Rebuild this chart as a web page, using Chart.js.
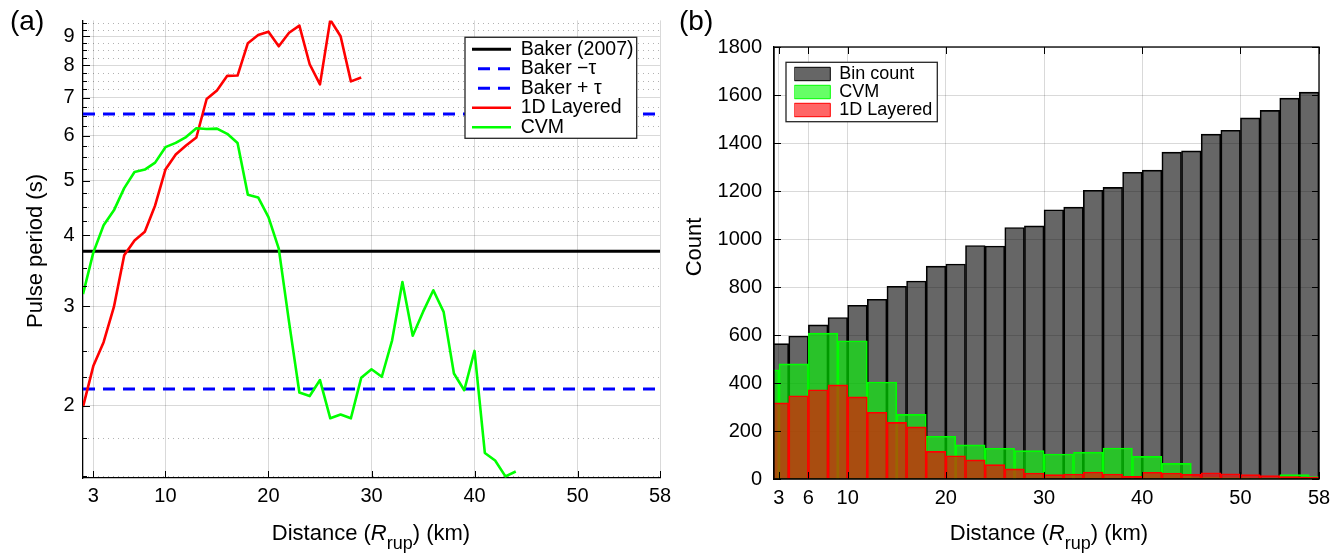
<!DOCTYPE html>
<html>
<head>
<meta charset="utf-8">
<script src="https://cdn.jsdelivr.net/npm/chart.js@4.4.1/dist/chart.umd.min.js"></script>
<style>
html,body{margin:0;padding:0;background:#fff;}
#wrap{position:relative;width:1340px;height:553px;overflow:hidden;font-family:'Liberation Sans',Arial,Helvetica,sans-serif;color:#000;}
canvas{position:absolute;top:0;}
.lbl{position:absolute;white-space:nowrap;line-height:1;z-index:2;}
.xt{font-size:22px;line-height:22px;transform:translateX(-50%);}
.yt{font-size:22px;line-height:22px;transform:translate(-50%,-50%) rotate(-90deg);}
.sub{font-size:18px;vertical-align:-8.6px;line-height:1;}
</style>
</head>
<body>
<div id="wrap">
  <canvas id="chartA" width="680" height="553" style="left:0px"></canvas>
  <canvas id="chartB" width="660" height="553" style="left:680px"></canvas>
  <div class="lbl" style="left:10px;top:7px;font-size:28px">(a)</div>
  <div class="lbl" style="left:679px;top:7px;font-size:28px">(b)</div>
  <div class="lbl xt" style="left:371px;top:522px">Distance (<i>R</i><span class="sub">rup</span>) (km)</div>
  <div class="lbl xt" style="left:1049px;top:522px">Distance (<i>R</i><span class="sub">rup</span>) (km)</div>
  <div class="lbl yt" style="left:34.5px;top:250.5px">Pulse period (s)</div>
  <div class="lbl yt" style="left:694.4px;top:247px">Count</div>
</div>
<script>
// ================= DATA =================
// Panel (a): pulse period vs distance
const distanceTicks = [3, 10, 20, 30, 40, 50, 58];
const periodTicks = [2, 3, 4, 5, 6, 7, 8, 9];
const distanceRangeA = [2, 58];
const periodRange = [1.49, 9.6];

const layeredKm = [2,3,4,5,6,7,8,9,10,11,12,13,14,15,16,17,18,19,20,21,22,23,24,25,26,27,28,29];
const layeredPeriod = [1.99,2.35,2.59,2.99,3.69,3.92,4.06,4.52,5.23,5.56,5.77,5.96,6.97,7.22,7.66,7.67,8.75,9.05,9.17,8.64,9.13,9.40,8.03,7.40,9.62,9.00,7.49,7.61];

const cvmKm = [2,3,4,5,6,7,8,9,10,11,12,13,14,15,16,17,18,19,20,21,22,23,24,25,26,27,28,29,30,31,32,33,34,35,36,37,38,39,40,41,42,43,44];
const cvmPeriod = [3.15,3.73,4.17,4.43,4.85,5.18,5.23,5.38,5.73,5.83,5.97,6.19,6.17,6.18,6.05,5.83,4.72,4.67,4.31,3.79,2.81,2.11,2.08,2.22,1.90,1.93,1.90,2.24,2.32,2.25,2.61,3.31,2.66,2.93,3.20,2.93,2.28,2.13,2.50,1.65,1.60,1.50,1.53];

const bakerMedian = 3.75;
const bakerMinusTau = 2.14;
const bakerPlusTau = 6.56;

// Panel (b): histograms
const histTicks = [3, 6, 10, 20, 30, 40, 50, 58];
const distanceRangeB = [2.5, 58];
const countRange = [0, 1800];
const countStep = 200;

const binCentres2km = [3,5,7,9,11,13,15,17,19,21,23,25,27,29,31,33,35,37,39,41,43,45,47,49,51,53,55,57];
const binCount = [564,596,642,673,724,749,803,825,887,896,973,971,1048,1055,1122,1133,1203,1215,1278,1287,1362,1367,1437,1453,1505,1536,1587,1612];
const layeredCount = [317,347,372,392,342,278,236,217,115,97,80,60,42,25,18,21,29,21,11,28,25,19,26,22,18,14,10,8];

const binCentres3km = [1.5,4.5,7.5,10.5,13.5,16.5,19.5,22.5,25.5,28.5,31.5,34.5,37.5,40.5,43.5,46.5,49.5,52.5,55.5,58.5];
const cvmCount = [455,480,608,576,404,269,178,142,128,118,104,112,129,94,65,6,5,4,18,10];

// ================= HELPERS =================
const FONT = "'Liberation Sans', Arial, Helvetica, sans-serif";
Chart.defaults.font.family = FONT;
Chart.defaults.color = '#000';
const GRID = 'rgba(0,0,0,0.15)';

const pts = (xs, ys) => xs.map((x, i) => ({x: x, y: ys[i]}));
const flat = (v) => distanceRangeA.map(x => ({x: x, y: v}));

const insetLegend = {
  id: 'insetLegend',
  afterLayout(chart, args, o) {
    const L = chart.legend;
    if (!L || !o || o.itemsLeft === undefined) return;
    L.left = o.itemsLeft; L.top = o.itemsTop;
    L.right = o.boxLeft + o.boxWidth; L.bottom = o.boxTop + o.boxHeight;
    L.width = L.right - L.left; L.height = L.bottom - L.top;
  },
  afterDatasetsDraw(chart, args, o) {
    if (!o || o.itemsLeft === undefined) return;
    const ctx = chart.ctx;
    ctx.save();
    ctx.fillStyle = '#fff';
    ctx.fillRect(o.boxLeft, o.boxTop, o.boxWidth, o.boxHeight);
    ctx.lineWidth = o.borderWidth;
    ctx.strokeStyle = o.borderColor;
    ctx.strokeRect(o.boxLeft, o.boxTop, o.boxWidth, o.boxHeight);
    ctx.restore();
    chart.legend.draw();
  }
};

// Panel (a) decorations: dotted minor grid + inner ticks
const decorA = {
  id: 'decorA',
  beforeDatasetsDraw(chart) {
    const {ctx, chartArea: a, scales: {y}} = chart;
    ctx.save();
    ctx.strokeStyle = 'rgba(0,0,0,0.3)';
    ctx.lineWidth = 1;
    ctx.setLineDash([1, 4]);
    for (let v = 1.5; v < periodRange[1]; v += 0.25) {
      if (periodTicks.includes(v)) continue;
      const py = Math.round(y.getPixelForValue(v)) + 0.5;
      if (py < a.top || py > a.bottom) continue;
      ctx.beginPath(); ctx.moveTo(a.left, py); ctx.lineTo(a.right, py); ctx.stroke();
    }
    ctx.restore();
  },
  afterDatasetsDraw(chart) {
    const {ctx, chartArea: a, scales: {x, y}} = chart;
    ctx.save();
    ctx.strokeStyle = '#000';
    ctx.lineWidth = 1;
    for (let v = 1.5; v < periodRange[1]; v += 0.25) {
      const py = Math.round(y.getPixelForValue(v)) + 0.5;
      if (py < a.top || py > a.bottom) continue;
      const len = periodTicks.includes(v) ? 7 : 4;
      ctx.beginPath(); ctx.moveTo(a.left, py); ctx.lineTo(a.left + len, py); ctx.stroke();
    }
    distanceTicks.forEach(v => {
      const px = Math.round(x.getPixelForValue(v)) + 0.5;
      ctx.beginPath(); ctx.moveTo(px, a.bottom); ctx.lineTo(px, a.bottom - 7); ctx.stroke();
    });
    ctx.restore();
  }
};

// Panel (b) decorations: box frame + inner ticks
const decorB = {
  id: 'decorB',
  afterDatasetsDraw(chart) {
    const {ctx, chartArea: a, scales: {x, y}} = chart;
    ctx.save();
    ctx.strokeStyle = '#000';
    ctx.lineWidth = 1.3;
    ctx.strokeRect(a.left, a.top, a.right - a.left, a.bottom - a.top);
    ctx.lineWidth = 1;
    y.ticks.forEach(t => {
      const py = Math.round(y.getPixelForValue(t.value)) + 0.5;
      ctx.beginPath(); ctx.moveTo(a.left, py); ctx.lineTo(a.left + 7, py); ctx.stroke();
      ctx.beginPath(); ctx.moveTo(a.right, py); ctx.lineTo(a.right - 7, py); ctx.stroke();
    });
    histTicks.forEach(v => {
      const px = Math.round(x.getPixelForValue(v)) + 0.5;
      ctx.beginPath(); ctx.moveTo(px, a.bottom); ctx.lineTo(px, a.bottom - 7); ctx.stroke();
      ctx.beginPath(); ctx.moveTo(px, a.top); ctx.lineTo(px, a.top + 7); ctx.stroke();
    });
    ctx.restore();
  }
};

// ================= CHART (a) =================
new Chart(document.getElementById('chartA'), {
  type: 'line',
  data: {
    datasets: [
      {label: 'Baker (2007)', data: flat(bakerMedian), borderColor: '#000000', borderWidth: 3, order: 5},
      {label: 'Baker \u2212\u03C4', data: flat(bakerMinusTau), borderColor: '#0000ff', borderWidth: 3, borderDash: [12, 8], order: 4},
      {label: 'Baker + \u03C4', data: flat(bakerPlusTau), borderColor: '#0000ff', borderWidth: 3, borderDash: [12, 8], order: 3},
      {label: '1D Layered', data: pts(layeredKm, layeredPeriod), borderColor: '#ff0000', borderWidth: 2.6, order: 2},
      {label: 'CVM', data: pts(cvmKm, cvmPeriod), borderColor: '#00ff00', borderWidth: 2.6, order: 1}
    ]
  },
  options: {
    responsive: false, animation: false, devicePixelRatio: 1,
    layout: {padding: {left: 0, top: 20, right: 20, bottom: 0}, autoPadding: false},
    elements: {
      point: {radius: 0, hoverRadius: 0},
      line: {tension: 0, borderJoinStyle: 'round', borderCapStyle: 'butt', fill: false}
    },
    plugins: {
      tooltip: {enabled: false},
      legend: {
        position: 'chartArea', align: 'start',
        labels: {
          font: {family: FONT, size: 19.5}, color: '#000',
          usePointStyle: true, pointStyle: 'line', boxWidth: 39, pointStyleWidth: 39, padding: 0,
          generateLabels: (chart) => chart.data.datasets.map((ds, i) => ({
            text: ds.label, fillStyle: ds.borderColor, strokeStyle: ds.borderColor,
            lineWidth: ds.borderWidth, lineDash: ds.borderDash || [], lineDashOffset: 14,
            lineCap: 'butt', pointStyle: 'line', hidden: false, datasetIndex: i, fontColor: '#000'
          })),
          sort: (a, b) => a.datasetIndex - b.datasetIndex
        }
      },
      insetLegend: {itemsLeft: 472, itemsTop: 39.55, boxLeft: 465, boxTop: 37.3, boxWidth: 171.7, boxHeight: 101, borderWidth: 1.3, borderColor: '#262626'}
    },
    scales: {
      x: {
        type: 'linear', min: distanceRangeA[0], max: distanceRangeA[1], offset: false,
        afterBuildTicks: (ax) => { ax.ticks = distanceTicks.map(v => ({value: v})); },
        afterFit: (ax) => { ax.height = 75; },
        ticks: {font: {size: 20}, color: '#000', padding: 6.5, maxRotation: 0, autoSkip: false, callback: (v) => String(v)},
        grid: {color: GRID, lineWidth: 1, drawTicks: false, offset: false},
        border: {color: '#000', width: 1.3}
      },
      y: {
        type: 'logarithmic', min: periodRange[0], max: periodRange[1],
        afterBuildTicks: (ax) => { ax.ticks = periodTicks.map(v => ({value: v})); },
        afterFit: (ax) => { ax.width = 83; },
        ticks: {font: {size: 20}, color: '#000', padding: 8.4, autoSkip: false, callback: (v) => String(v)},
        grid: {color: GRID, lineWidth: 1, drawTicks: false},
        border: {color: '#000', width: 1.3}
      }
    }
  },
  plugins: [decorA, insetLegend]
});

// ================= CHART (b) =================
new Chart(document.getElementById('chartB'), {
  type: 'bar',
  data: {
    datasets: [
      {label: 'Bin count', data: pts(binCentres2km, binCount), xAxisID: 'x',
       backgroundColor: 'rgba(0,0,0,0.6)', borderColor: '#000000', borderWidth: 1, order: 3},
      {label: 'CVM', data: pts(binCentres3km, cvmCount), xAxisID: 'x2',
       backgroundColor: 'rgba(0,255,0,0.6)', borderColor: '#00ff00', borderWidth: 1, order: 2},
      {label: '1D Layered', data: pts(binCentres2km, layeredCount), xAxisID: 'x',
       backgroundColor: 'rgba(255,0,0,0.6)', borderColor: '#ff0000', borderWidth: 1, order: 1}
    ]
  },
  options: {
    responsive: false, animation: false, devicePixelRatio: 1,
    layout: {padding: {left: 0, top: 47, right: 21, bottom: 0}, autoPadding: false},
    datasets: {bar: {grouped: false, barPercentage: 1, categoryPercentage: 1}},
    plugins: {
      tooltip: {enabled: false},
      legend: {
        position: 'chartArea', align: 'start',
        labels: {
          font: {family: FONT, size: 18}, color: '#000', boxWidth: 36, boxHeight: 13.4, padding: 0,
          sort: (a, b) => a.datasetIndex - b.datasetIndex
        }
      },
      insetLegend: {itemsLeft: 114.3, itemsTop: 65, boxLeft: 106, boxTop: 62.3, boxWidth: 151.3, boxHeight: 59.4, borderWidth: 1.3, borderColor: '#262626'}
    },
    scales: {
      x: {
        type: 'linear', min: distanceRangeB[0], max: distanceRangeB[1], offset: false,
        afterBuildTicks: (ax) => { ax.ticks = histTicks.map(v => ({value: v})); },
        afterFit: (ax) => { ax.height = 74; },
        ticks: {font: {size: 20}, color: '#000', padding: 7, maxRotation: 0, autoSkip: false, callback: (v) => String(v)},
        grid: {color: GRID, lineWidth: 1, drawTicks: false, offset: false},
        border: {color: '#000', width: 1.3}
      },
      x2: {
        type: 'linear', display: false, min: distanceRangeB[0], max: distanceRangeB[1], offset: false,
        afterBuildTicks: (ax) => { ax.ticks = [{value: 10}, {value: 50}]; },
        grid: {offset: false}
      },
      y: {
        type: 'linear', min: countRange[0], max: countRange[1],
        afterFit: (ax) => { ax.width = 94; },
        ticks: {stepSize: countStep, font: {size: 20}, color: '#000', padding: 12, autoSkip: false, callback: (v) => String(v)},
        grid: {color: GRID, lineWidth: 1, drawTicks: false},
        border: {color: '#000', width: 1.3}
      }
    }
  },
  plugins: [decorB, insetLegend]
});
</script>
</body>
</html>
